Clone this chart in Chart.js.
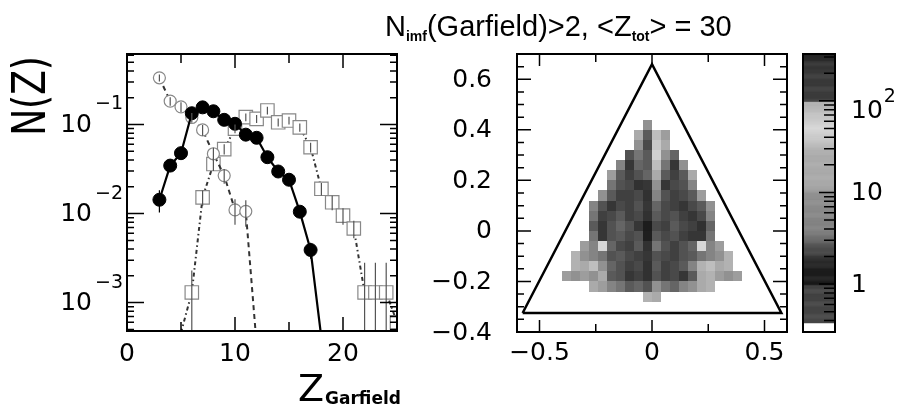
<!DOCTYPE html>
<html>
<head>
<meta charset="utf-8">
<script src="https://cdn.jsdelivr.net/npm/chart.js@4.4.1/dist/chart.umd.min.js"></script>
<style>
  body { margin: 0; background: #fff; }
  canvas { position: absolute; left: 0; top: 0; width: 907px; height: 411px; }
</style>
</head>
<body>
<canvas id="left" width="907" height="411"></canvas>
<canvas id="right" width="907" height="411"></canvas>
<canvas id="bar" width="907" height="411"></canvas>
<script>
// left panel: N(Z) vs Z_Garfield
var zFilled = [3, 4, 5, 6, 7, 8, 9, 10, 11, 12, 13, 14, 15, 16, 17, 18];
var nFilled = [0.0143, 0.0346, 0.0477, 0.134, 0.156, 0.141, 0.113, 0.102, 0.077, 0.071, 0.043, 0.0297, 0.024, 0.0105, 0.0039, 0.0004];
var eFilled = [0.004, 0.005, 0.006, 0.01, 0.01, 0.01, 0.008, 0.007, 0.006, 0.005, 0.004, 0.003, 0.003, 0.0015, 0.0008, 0];

var zOpen = [3, 4, 5, 6, 7, 8, 9, 10, 11, 12];
var nOpen = [0.335, 0.183, 0.158, 0.12, 0.087, 0.047, 0.0267, 0.011, 0.0106, 0.00034];
var eOpen = [0.03, 0.02, 0.02, 0.015, 0.012, 0.008, 0.005, 0.0035, 0.0035, 0];

var zSquare = [5, 6, 7, 8, 9, 10, 11, 12, 13, 14, 15, 16, 17, 18, 19, 20, 21, 22, 23, 24, 25];
var nSquare = [0.00046, 0.0013, 0.0152, 0.036, 0.053, 0.09, 0.121, 0.116, 0.144, 0.106, 0.111, 0.093, 0.0556, 0.019, 0.0134, 0.0095, 0.0068, 0.0013, 0.0013, 0.0013, 0.0006];
var eSquare = [0, 0.001, 0.003, 0.006, 0.007, 0.01, 0.012, 0.012, 0.014, 0.011, 0.011, 0.01, 0.007, 0.003, 0.0025, 0.002, 0.0015, 0.0015, 0.0015, 0.0015, 0.0006];

var leftXLabels = [0, 10, 20];
var leftYDecades = [-3, -2, -1];

// right panel: 2D distribution inside the triangle
var triX = [-0.575, 0.575, 0, -0.575];
var triY = [-0.325, -0.325, 0.66, -0.325];
var binX0 = -0.4, binW = 0.04, binY0 = 0.44, binH = 0.04;
var cellCounts = [
  [0,0,0,0,0,0,0,0,0,10,0,0,0,0,0,0,0,0,0,0],
  [0,0,0,0,0,0,0,0,19,2.8,34,11,0,0,0,0,0,0,0,0],
  [0,0,0,0,0,0,0,0,10,2.4,40,19,0,0,0,0,0,0,0,0],
  [0,0,0,0,0,0,0,2.6,3.4,2.8,46,10,3.1,0,0,0,0,0,0,0],
  [0,0,0,0,0,0,5,2.0,3.1,2.8,34,3.4,2.0,10,0,0,0,0,0,0],
  [0,0,0,0,0,11,2.8,2.2,2.6,3.1,19,2.8,2.2,2.8,19,0,0,0,0,0],
  [0,0,0,0,0,3.4,2.6,2.4,1.9,2.0,10,2.0,2.4,2.6,5,0,0,0,0,0],
  [0,0,0,0,10,2.8,2.2,2.2,2.4,1.9,5,2.6,2.2,2.4,2.8,11,0,0,0,0],
  [0,0,0,5,2.6,2.0,2.4,2.2,2.6,2.0,3.1,2.4,2.2,2.0,2.4,2.8,10,0,0,0],
  [0,0,0,3.4,2.2,2.4,2.8,2.2,2.4,1.9,2.8,2.4,2.6,2.2,2.0,2.4,5,0,0,0],
  [0,0,0,2.8,2.0,2.6,3.1,2.6,2.0,1.3,2.4,2.2,2.8,2.4,2.2,1.9,3.1,0,0,0],
  [0,0,0,3.4,2.0,2.6,2.8,2.4,2.6,1.6,2.8,2.4,2.6,2.2,2.0,2.0,3.4,0,0,0],
  [0,0,11,5,50,3.1,2.4,2.2,2.8,1.9,3.4,2.6,2.2,2.6,3.1,50,5,11,0,0],
  [0,30,10,5,3.4,2.6,2.8,2.4,2.2,2.0,2.6,2.4,2.2,2.6,2.8,3.4,5,10,30,0],
  [0,30,19,34,10,3.1,2.6,2.2,2.4,1.9,2.8,2.2,2.4,2.8,5,30,34,19,30,0],
  [11,10,11,10,19,2.8,2.6,2.0,2.2,1.9,2.6,2.2,2.4,2.0,2.8,19,30,11,10,11],
  [0,0,0,19,11,5,3.4,2.8,3.1,2.6,10,3.4,3.1,5,10,19,30,0,0,0],
  [0,0,0,0,0,0,0,0,0,30,19,0,0,0,0,0,0,0,0,0]
];
var rightXLabels = [-0.5, 0, 0.5];
var rightYLabels = [-0.4, -0.2, 0, 0.2, 0.4, 0.6];

// colour scale (log10 of counts -> grey level)
var palLog  = [-0.52, -0.42, -0.419, -0.01, 0.0, 0.2, 0.49, 0.55, 1.0, 1.08, 1.46, 1.5, 1.7, 1.99, 2.0, 2.34, 2.52];
var palGrey = [255, 255, 70, 65, 25, 30, 100, 125, 145, 168, 172, 185, 215, 175, 60, 55, 35];
var barLabels = [1, 10, 100];

var FONT = '"DejaVu Sans", sans-serif';

function greyAt(l) {
  if (l <= palLog[0]) return palGrey[0];
  for (var i = 1; i < palLog.length; i++) {
    if (l <= palLog[i]) {
      var t = (l - palLog[i - 1]) / (palLog[i] - palLog[i - 1]);
      return palGrey[i - 1] + t * (palGrey[i] - palGrey[i - 1]);
    }
  }
  return palGrey[palGrey.length - 1];
}
function greyCss(l) {
  var g = Math.round(greyAt(l));
  return 'rgb(' + g + ',' + g + ',' + g + ')';
}

function put(ctx, s, x, y, px, align, base, bold, family) {
  ctx.font = (bold ? 'bold ' : '') + px + 'px ' + (family || FONT);
  ctx.textAlign = align || 'center';
  ctx.textBaseline = base || 'middle';
  ctx.fillStyle = '#000';
  ctx.fillText(s, x, y);
  return ctx.measureText(s).width;
}
function frame(ctx, a) {
  ctx.strokeStyle = '#000';
  ctx.lineWidth = 2;
  ctx.strokeRect(a.left, a.top, a.right - a.left, a.bottom - a.top);
}
function fmt(v) {
  return v < 0 ? '\u2212' + Math.abs(v) : String(v);
}

// error bars for the left panel
var errPlugin = {
  id: 'errbars',
  afterDatasetsDraw: function (chart) {
    var ctx = chart.ctx, sy = chart.scales.y, a = chart.chartArea;
    ctx.save();
    ctx.beginPath();
    ctx.rect(a.left, a.top, a.right - a.left, a.bottom - a.top);
    ctx.clip();
    chart.data.datasets.forEach(function (ds, i) {
      var meta = chart.getDatasetMeta(i);
      ctx.strokeStyle = ds.errColor;
      ctx.lineWidth = 1.2;
      ctx.beginPath();
      ds.data.forEach(function (p, j) {
        var e = ds.errors[j];
        if (!e) return;
        var x = meta.data[j].x;
        var lo = Math.max(p.y - e, sy.min * 0.3);
        ctx.moveTo(x, sy.getPixelForValue(p.y + e));
        ctx.lineTo(x, sy.getPixelForValue(lo));
      });
      ctx.stroke();
    });
    ctx.restore();
  }
};

var leftDeco = {
  id: 'leftDeco',
  afterDraw: function (chart) {
    var ctx = chart.ctx, a = chart.chartArea, sx = chart.scales.x, sy = chart.scales.y;
    ctx.save();
    ctx.strokeStyle = '#000';
    ctx.lineWidth = 1.5;
    ctx.beginPath();
    [5, 10, 15, 20].forEach(function (v) {
      var x = sx.getPixelForValue(v), len = v % 10 === 0 ? 14 : 9;
      ctx.moveTo(x, a.top); ctx.lineTo(x, a.top + len);
      ctx.moveTo(x, a.bottom); ctx.lineTo(x, a.bottom - len);
    });
    for (var d = -4; d <= 0; d++) {
      for (var m = 1; m <= 9; m++) {
        var v = m * Math.pow(10, d);
        if (v < sy.min || v > sy.max) continue;
        var y = sy.getPixelForValue(v), len = m === 1 ? 17 : 7;
        ctx.moveTo(a.left, y); ctx.lineTo(a.left + len, y);
        ctx.moveTo(a.right, y); ctx.lineTo(a.right - len, y);
      }
    }
    ctx.stroke();
    frame(ctx, a);

    leftXLabels.forEach(function (v) {
      put(ctx, String(v), sx.getPixelForValue(v), 354, 25);
    });
    leftYDecades.forEach(function (d) {
      var y = sy.getPixelForValue(Math.pow(10, d));
      put(ctx, '10', 92, y + 1, 25, 'right');
      put(ctx, '\u2212' + (-d), 95, y - 20, 19, 'left');
    });

    // axis titles
    ctx.save();
    ctx.translate(33, 96);
    ctx.rotate(-Math.PI / 2);
    ctx.scale(1, 1.3);
    put(ctx, 'N(Z)', 0, 0, 36);
    ctx.restore();
    var w = put(ctx, 'Z', 298, 401, 38, 'left', 'alphabetic');
    put(ctx, 'Garfield', 298 + w + 1, 404, 17, 'left', 'alphabetic', true);

    // title
    var tx = 385, base = 36, fam = '"Liberation Sans", Arial, sans-serif';
    [['N', 29, 0, false], ['imf', 14, 5, true], ['(Garfield)>2, <Z', 29, 0, false], ['tot', 14, 5, true], ['> = 30', 29, 0, false]].forEach(function (p) {
      tx += put(ctx, p[0], tx, base + p[2], p[1], 'left', 'alphabetic', p[3], fam);
    });
    ctx.restore();
  }
};

function pts(xs, ys) {
  return xs.map(function (x, i) { return { x: x, y: ys[i] }; });
}
function radii(ys, r, min) {
  return ys.map(function (y) { return y < min ? 0 : r; });
}

var yMinLeft = 4.8e-4, yMaxLeft = 0.62;

new Chart(document.getElementById('left'), {
  type: 'line',
  data: {
    datasets: [{
      data: pts(zFilled, nFilled),
      errors: eFilled, errColor: '#000',
      borderColor: '#000', borderWidth: 2.2,
      pointStyle: 'circle', pointRadius: radii(nFilled, 6.5, yMinLeft),
      pointBackgroundColor: '#000', pointBorderColor: '#000', pointBorderWidth: 1,
      clip: 0
    }, {
      data: pts(zOpen, nOpen),
      errors: eOpen, errColor: '#555',
      borderColor: '#333', borderWidth: 2, borderDash: [5, 4],
      pointStyle: 'circle', pointRadius: radii(nOpen, 6, yMinLeft),
      pointBackgroundColor: '#fff', pointBorderColor: '#888', pointBorderWidth: 1.2,
      clip: 0
    }, {
      data: pts(zSquare, nSquare),
      errors: eSquare, errColor: '#555',
      borderColor: '#333', borderWidth: 2, borderDash: [4, 3, 1.5, 3],
      pointStyle: 'rect', pointRadius: radii(nSquare, 9.5, yMinLeft),
      pointBackgroundColor: '#fff', pointBorderColor: '#888', pointBorderWidth: 1.2,
      clip: 0
    }]
  },
  options: {
    responsive: false, animation: false, devicePixelRatio: 1,
    layout: { padding: { left: 127, top: 54, right: 510, bottom: 80 } },
    plugins: { legend: { display: false }, title: { display: false }, tooltip: { enabled: false } },
    elements: { line: { tension: 0 } },
    scales: {
      x: { type: 'linear', min: 0, max: 25, display: false },
      y: { type: 'logarithmic', min: yMinLeft, max: yMaxLeft, display: false }
    }
  },
  plugins: [errPlugin, leftDeco]
});

var heatPlugin = {
  id: 'heat',
  beforeDatasetsDraw: function (chart) {
    var ctx = chart.ctx, sx = chart.scales.x, sy = chart.scales.y;
    ctx.save();
    cellCounts.forEach(function (row, r) {
      row.forEach(function (z, c) {
        if (!z) return;
        var x0 = Math.round(sx.getPixelForValue(binX0 + c * binW));
        var x1 = Math.round(sx.getPixelForValue(binX0 + (c + 1) * binW));
        var y0 = Math.round(sy.getPixelForValue(binY0 - r * binH));
        var y1 = Math.round(sy.getPixelForValue(binY0 - (r + 1) * binH));
        ctx.fillStyle = greyCss(Math.log10(z));
        ctx.fillRect(x0, y0, x1 - x0, y1 - y0);
      });
    });
    ctx.restore();
  }
};

var rightDeco = {
  id: 'rightDeco',
  afterDraw: function (chart) {
    var ctx = chart.ctx, a = chart.chartArea, sx = chart.scales.x, sy = chart.scales.y;
    ctx.save();
    ctx.strokeStyle = '#000';
    ctx.lineWidth = 1.5;
    ctx.beginPath();
    [-0.5, -0.25, 0, 0.25, 0.5].forEach(function (v) {
      var x = sx.getPixelForValue(v), len = v % 0.5 === 0 ? 12 : 8;
      ctx.moveTo(x, a.top); ctx.lineTo(x, a.top + len);
      ctx.moveTo(x, a.bottom); ctx.lineTo(x, a.bottom - len);
    });
    for (var i = -7; i <= 13; i++) {
      var y = sy.getPixelForValue(i * 0.05), len = i % 4 === 0 ? 14 : 7;
      ctx.moveTo(a.left, y); ctx.lineTo(a.left + len, y);
      ctx.moveTo(a.right, y); ctx.lineTo(a.right - len, y);
    }
    ctx.stroke();
    frame(ctx, a);
    rightXLabels.forEach(function (v) {
      put(ctx, fmt(v), sx.getPixelForValue(v), 353, 25);
    });
    rightYLabels.forEach(function (v) {
      put(ctx, fmt(v), 492, sy.getPixelForValue(v) + 1, 25, 'right');
    });
    ctx.restore();
  }
};

new Chart(document.getElementById('right'), {
  type: 'scatter',
  data: {
    datasets: [{
      data: pts(triX, triY),
      showLine: true, borderColor: '#000', borderWidth: 2.5,
      pointRadius: 0, clip: 0
    }]
  },
  options: {
    responsive: false, animation: false, devicePixelRatio: 1,
    layout: { padding: { left: 517, top: 54, right: 120, bottom: 79 } },
    plugins: { legend: { display: false }, title: { display: false }, tooltip: { enabled: false } },
    scales: {
      x: { type: 'linear', min: -0.6, max: 0.6, display: false },
      y: { type: 'linear', min: -0.4, max: 0.7, display: false }
    }
  },
  plugins: [heatPlugin, rightDeco]
});

var barPlugin = {
  id: 'palette',
  afterDraw: function (chart) {
    var ctx = chart.ctx, a = chart.chartArea, sy = chart.scales.y;
    var lo = Math.log10(sy.min), hi = Math.log10(sy.max), n = 300;
    ctx.save();
    for (var i = 0; i < n; i++) {
      var l0 = lo + (hi - lo) * i / n, l1 = lo + (hi - lo) * (i + 1) / n;
      var y0 = sy.getPixelForValue(Math.pow(10, l0)), y1 = sy.getPixelForValue(Math.pow(10, l1));
      ctx.fillStyle = greyCss((l0 + l1) / 2);
      ctx.fillRect(a.left, y1, a.right - a.left, y0 - y1 + 0.5);
    }
    ctx.strokeStyle = '#000';
    ctx.lineWidth = 1.5;
    ctx.beginPath();
    for (var d = -1; d <= 2; d++) {
      for (var m = 1; m <= 9; m++) {
        var v = m * Math.pow(10, d);
        if (v < sy.min || v > sy.max) continue;
        var y = sy.getPixelForValue(v), len = m === 1 ? 16 : 11;
        ctx.moveTo(a.right, y); ctx.lineTo(a.right - len, y);
      }
    }
    ctx.stroke();
    frame(ctx, a);
    barLabels.forEach(function (v) {
      var y = sy.getPixelForValue(v);
      if (v === 100) {
        var w = put(ctx, '10', 851, y + 11, 25, 'left');
        put(ctx, '2', 851 + w + 1, y - 4, 19, 'left');
      } else {
        put(ctx, String(v), 851, y + 1, 25, 'left');
      }
    });
    ctx.restore();
  }
};

new Chart(document.getElementById('bar'), {
  type: 'scatter',
  data: { datasets: [] },
  options: {
    responsive: false, animation: false, devicePixelRatio: 1,
    layout: { padding: { left: 803, top: 54, right: 72, bottom: 79 } },
    plugins: { legend: { display: false }, title: { display: false }, tooltip: { enabled: false } },
    scales: {
      x: { type: 'linear', min: 0, max: 1, display: false },
      y: { type: 'logarithmic', min: Math.pow(10, -0.511), max: Math.pow(10, 2.511), display: false }
    }
  },
  plugins: [barPlugin]
});
</script>
</body>
</html>
